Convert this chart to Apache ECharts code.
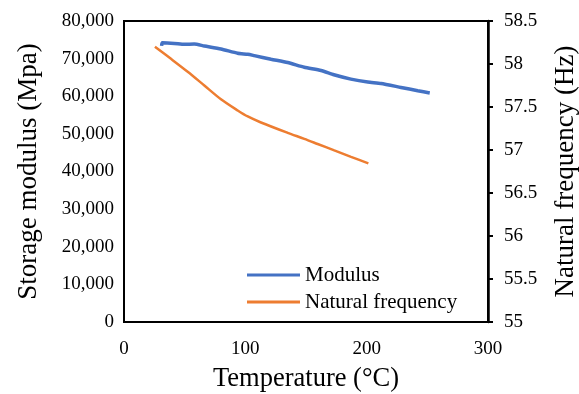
<!DOCTYPE html>
<html>
<head>
<meta charset="utf-8">
<script src="https://cdn.jsdelivr.net/npm/echarts@6/dist/echarts.min.js"></script>
<style>
  html, body { margin: 0; padding: 0; background: #fff; }
  #chart { width: 579px; height: 394px; }
</style>
</head>
<body>
<div id="chart"></div>
<script>
// Storage modulus (MPa) versus temperature (°C)
const modulusTemp = [31, 31.6, 41.5, 49.7, 57.9, 66.2, 79.9, 93.7, 102, 107.4, 121.2, 134.9, 148.6, 162.4, 173, 187, 200.9, 211.8, 228.3, 242.1, 252];
const modulusValues = [73400, 74200, 74050, 73800, 73880, 73350, 72560, 71420, 71160, 70800, 69840, 68950, 67700, 66840, 65700, 64560, 63770, 63400, 62350, 61480, 60870];

// Natural frequency (Hz) versus temperature (°C)
const freqTemp = [25.5, 38.7, 52.5, 66.2, 79.9, 93.7, 102, 112.9, 134.9, 148.6, 159.6, 173.3, 187.1, 201.4];
const freqValues = [58.20, 58.06, 57.91, 57.75, 57.59, 57.46, 57.39, 57.32, 57.20, 57.13, 57.07, 56.995, 56.92, 56.845];

const xTicks = [0, 100, 200, 300];
const leftTicks = [0, 10000, 20000, 30000, 40000, 50000, 60000, 70000, 80000];
const rightTicks = [55, 55.5, 56, 56.5, 57, 57.5, 58, 58.5];

const serif = "'Liberation Serif', 'Times New Roman', serif";
const black = '#000';

const chart = echarts.init(document.getElementById('chart'), null, { renderer: 'canvas' });

const fmtThousands = v => Math.round(v).toString().replace(/\B(?=(\d{3})+(?!\d))/g, ',');

chart.setOption({
  animation: false,
  backgroundColor: '#fff',
  grid: {
    left: 124, right: 91, top: 21, bottom: 72,
    outerBoundsMode: 'none',
    show: true, borderColor: black, borderWidth: 2, backgroundColor: 'transparent'
  },
  legend: {
    orient: 'vertical',
    left: 242, top: 258,
    itemWidth: 53, itemHeight: 3, itemGap: 3,
    icon: 'rect',
    textStyle: { fontFamily: serif, fontSize: 21, color: black, lineHeight: 24 },
    data: ['Modulus', 'Natural frequency']
  },
  xAxis: {
    type: 'value',
    min: xTicks[0], max: xTicks[xTicks.length - 1], interval: 100,
    name: 'Temperature (°C)', nameLocation: 'middle', nameGap: 44,
    nameTextStyle: { fontFamily: serif, fontSize: 26.5, color: black },
    axisLine: { show: true, lineStyle: { color: black, width: 2 } },
    axisTick: { show: false },
    splitLine: { show: false },
    axisLabel: { fontFamily: serif, fontSize: 19, color: black, margin: 18 }
  },
  yAxis: [
    {
      type: 'value',
      min: leftTicks[0], max: leftTicks[leftTicks.length - 1], interval: 10000,
      name: 'Storage modulus (Mpa)', nameLocation: 'middle', nameGap: 82, nameRotate: 90,
      nameTextStyle: { fontFamily: serif, fontSize: 27, color: black },
      axisLine: { show: true, lineStyle: { color: black, width: 2 } },
      axisTick: { show: false },
      splitLine: { show: false },
      axisLabel: { fontFamily: serif, fontSize: 19, color: black, margin: 10, formatter: fmtThousands }
    },
    {
      type: 'value', position: 'right',
      min: rightTicks[0], max: rightTicks[rightTicks.length - 1], interval: 0.5,
      name: 'Natural frequency (Hz)', nameLocation: 'middle', nameGap: 64, nameRotate: 90,
      nameTextStyle: { fontFamily: serif, fontSize: 27, color: black },
      axisLine: { show: true, lineStyle: { color: black, width: 2.5 } },
      axisTick: { show: true, inside: false, length: 5, lineStyle: { color: black, width: 2 } },
      splitLine: { show: false },
      axisLabel: { fontFamily: serif, fontSize: 19, color: black, margin: 16 }
    }
  ],
  series: [
    {
      name: 'Modulus', type: 'line', yAxisIndex: 0,
      showSymbol: false, symbol: 'none', smooth: 0.2,
      color: '#4472C4',
      lineStyle: { color: '#4472C4', width: 3.5 },
      data: modulusTemp.map((t, i) => [t, modulusValues[i]])
    },
    {
      name: 'Natural frequency', type: 'line', yAxisIndex: 1,
      showSymbol: false, symbol: 'none', smooth: 0.3,
      color: '#ED7D31',
      lineStyle: { color: '#ED7D31', width: 2.5 },
      data: freqTemp.map((t, i) => [t, freqValues[i]])
    }
  ]
});
</script>
</body>
</html>
